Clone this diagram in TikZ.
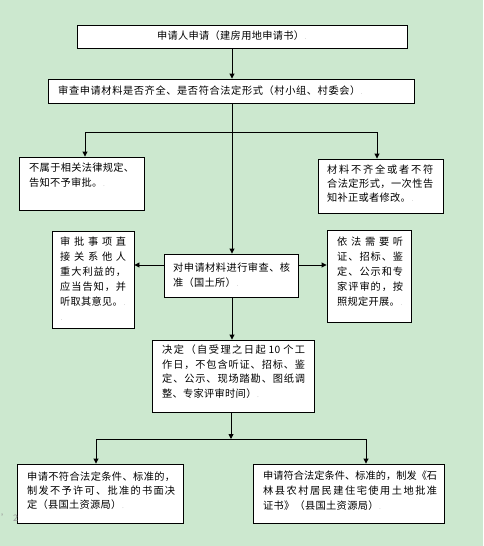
\documentclass[tikz,border=0pt]{standalone}
\usepackage{fontspec}
\setmainfont{Noto Sans CJK SC}[LetterSpace=3]
\usetikzlibrary{arrows.meta,fit,calc}
\definecolor{bg}{RGB}{204,232,207}
\newcommand\pmk{{\color{black!55}\fontsize{5}{5}\selectfont\,.}}
\newcommand\jl[2]{\makebox[#1pt][s]{\spaceskip=0pt plus 1fil\xspaceskip=0pt plus 1fil\relax #2}}
\begin{document}
\begin{tikzpicture}[x=1pt,y=-1pt,
 box/.style={draw=black,line width=0.9pt,fill=white,inner sep=0pt},
 txt/.style={anchor=north west,inner sep=0pt,align=left,text=black,font=\fontsize{10.2}{14.5}\selectfont},
 txtw/.style={txt,font=\fontsize{10.2}{15}\selectfont},
 conn/.style={draw=black,line width=0.9pt},
 arr/.style={conn,-{Triangle[length=5pt,width=5pt]}}]
\fill[bg] (0,0) rectangle (483,546);
\useasboundingbox (0,0) rectangle (483,546);
% boxes
\node[box,fit={(77,25)(407,48)}] (b1) {};
\node[box,fit={(48,79)(414,103)}] (b2) {};
\node[box,fit={(19,157)(144,210)}] (l1) {};
\node[box,fit={(318,159)(443,213)}] (r1) {};
\node[box,fit={(52,231)(134,328)}] (l2) {};
\node[box,fit={(164,254)(298,297)}] (b3) {};
\node[box,fit={(327,230)(411,322)}] (r2) {};
\node[box,fit={(152,340)(314,412)}] (b4) {};
\node[box,fit={(17,464)(183,523)}] (bl) {};
\node[box,fit={(253,464)(444,523)}] (br) {};
% texts
\node[txt] (t1) at (157,31) {申请人申请（建房用地申请书）\pmk};
\node[txt,font=\fontsize{10.2}{14.5}\selectfont\addfontfeature{LetterSpace=6}] (t2) at (58,86) {审查申请材料是否齐全、是否符合法定形式（村小组、村委会）\pmk};
\node[txt] (tl1) at (29,163) {\jl{105}{不 属 于 相 关 法 律 规 定 、}\\告知不予审批。\pmk};
\node[txt,font=\fontsize{10.2}{14}\selectfont] (tr1) at (327,165) {\jl{106}{材 料 不 齐 全 或 者 不 符}\\\jl{106}{合 法 定 形 式 ， 一 次 性 告}\\知补正或者修改。\pmk};
\node[txtw] (tl2) at (60,237) {\jl{66}{审 批 事 项 直}\\\jl{66}{接 关 系 他 人}\\\jl{66}{重 大 利 益 的 ，}\\\jl{66}{应 当 告 知 ， 并}\\听取其意见。\pmk\\\pmk};
\node[txtw] (tb3) at (173,263) {\jl{117}{对 申 请 材 料 进 行 审 查 、 核}\\准（国土所）\pmk};
\node[txtw] (tr2) at (337,237) {\jl{66}{依 法 需 要 听}\\\jl{66}{证 、 招 标 、 鉴}\\\jl{66}{定 、 公 示 和 专}\\\jl{66}{家 评 审 的 ， 按}\\照规定开展。\pmk};
\node[txt] (tb4) at (162,345) {\jl{143}{决 定 （ 自 受 理 之 日 起 \ 10 \ 个 工}\\\jl{143}{作 日 ， 不 包 含 听 证 、 招 标 、 鉴}\\\jl{143}{定 、 公 示 、 现 场 踏 勘 、 图 纸 调}\\整、专家评审时间）\pmk};
\node[txt,font=\fontsize{10.2}{14}\selectfont] (tbl) at (27,472) {\jl{148}{申 请 不 符 合 法 定 条 件 、 标 准 的 ，}\\\jl{148}{制 发 不 予 许 可 、 批 准 的 书 面 决}\\定（县国土资源局）\pmk};
\node[txt,font=\fontsize{10.2}{15}\selectfont] (tbr) at (263,471) {{\addfontfeature{LetterSpace=0}\jl{174}{申 请 符 合 法 定 条 件 、 标 准 的 ， 制 发 《 石}}\\\jl{174}{林 县 农 村 居 民 建 住 宅 使 用 土 地 批 准}\\证书》（县国土资源局）\pmk};
\node[anchor=west,inner sep=0pt,text=black!40,font=\fontsize{9}{9}\selectfont] (mk) at (1,518) {'\,\,2};
% connectors
\coordinate (ax) at (232,0);
\draw[arr] (b1.south -| ax) -- (b2.north -| ax);
\draw[arr] (b2.south -| ax) -- (b3.north -| ax);
\coordinate (j1l) at (85,132);
\coordinate (j1r) at (377,132);
\draw[conn] (j1l) -- (j1r);
\draw[arr] (j1l) -- (j1l |- l1.north);
\draw[arr] (j1r) -- (j1r |- r1.north);
\coordinate (ya) at (0,265);
\draw[arr] (b3.west |- ya) -- (l2.east |- ya);
\draw[arr] (b3.east |- ya) -- (r2.west |- ya);
\draw[arr] (b3.south -| ax) -- (b4.north -| ax);
\coordinate (j2) at (231,439);
\coordinate (j2l) at (96,439);
\coordinate (j2r) at (366,439);
\draw[arr] (b4.south -| j2) -- (j2);
\draw[conn] (j2l) -- (j2r);
\draw[arr] (j2l) -- (j2l |- bl.north);
\draw[arr] (j2r) -- (j2r |- br.north);
\end{tikzpicture}
\end{document}
